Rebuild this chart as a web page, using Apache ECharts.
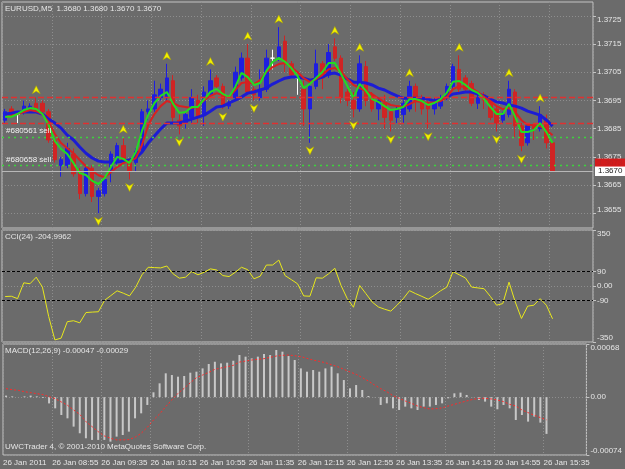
<!DOCTYPE html>
<html>
<head>
<meta charset="utf-8">
<script src="https://cdn.jsdelivr.net/npm/echarts/dist/echarts.min.js"></script>
<style>
  html, body { margin: 0; padding: 0; background: #6b6b6b; }
  #chart { width: 625px; height: 469px; }
</style>
</head>
<body>
<div id="chart"></div>
<script>
// EURUSD M5, 26 Jan 2011, bars from 08:15 to 15:35
const opens = [1.3688,1.3692,1.3690,1.3691,1.3692,1.3694,1.3694,1.3691,1.3681,1.3672,
  1.3672,1.3676,1.3670,1.3662,1.3671,1.3661,1.3662,1.3670,1.3673,1.3679,
  1.3673,1.3673,1.3678,1.3691,1.3692,1.3696,1.3696,1.3702,1.3688,1.3687,
  1.3689,1.3695,1.3690,1.3697,1.3703,1.3700,1.3693,1.3696,1.3703,1.3710,
  1.3699,1.3696,1.3699,1.3710,1.3710,1.3716,1.3708,1.3703,1.3699,1.3692,
  1.3700,1.3708,1.3704,1.3714,1.3710,1.3698,1.3695,1.3692,1.3707,1.3697,
  1.3692,1.3694,1.3691,1.3689,1.3690,1.3692,1.3700,1.3695,1.3694,1.3692,
  1.3693,1.3696,1.3700,1.3706,1.3703,1.3701,1.3694,1.3697,1.3695,1.3692,
  1.3688,1.3690,1.3698,1.3686,1.3680,1.3686,1.3685,1.3688,1.3680]
const highs = [1.3692,1.3693,1.3690,1.3695,1.3694,1.3696,1.3695,1.3692,1.3682,1.3675,
  1.3680,1.3678,1.3671,1.3672,1.3672,1.3664,1.3668,1.3677,1.3680,1.3682,
  1.3674,1.3678,1.3692,1.3695,1.3702,1.3701,1.3708,1.3704,1.3690,1.3691,
  1.3699,1.3697,1.3700,1.3706,1.3704,1.3701,1.3695,1.3707,1.3712,1.3715,
  1.3700,1.3706,1.3713,1.3713,1.3721,1.3718,1.3709,1.3703,1.3702,1.3701,
  1.3713,1.3709,1.3715,1.3717,1.3711,1.3699,1.3698,1.3711,1.3709,1.3698,
  1.3696,1.3697,1.3692,1.3693,1.3695,1.3702,1.3701,1.3697,1.3695,1.3696,
  1.3697,1.3701,1.3708,1.3711,1.3704,1.3702,1.3697,1.3698,1.3696,1.3693,
  1.3691,1.3702,1.3699,1.3687,1.3687,1.3687,1.3693,1.3690,1.3680]
const lows = [1.3687,1.3689,1.3687,1.3690,1.3691,1.3691,1.3690,1.3680,1.3673,1.3668,
  1.3671,1.3668,1.3660,1.3661,1.3659,1.3655,1.3661,1.3666,1.3672,1.3673,
  1.3667,1.3670,1.3677,1.3688,1.3691,1.3695,1.3695,1.3687,1.3683,1.3685,
  1.3687,1.3687,1.3686,1.3696,1.3699,1.3692,1.3692,1.3695,1.3702,1.3697,
  1.3695,1.3695,1.3698,1.3706,1.3709,1.3705,1.3703,1.3697,1.3686,1.3680,
  1.3699,1.3699,1.3703,1.3709,1.3694,1.3693,1.3689,1.3691,1.3693,1.3691,
  1.3688,1.3685,1.3684,1.3687,1.3687,1.3691,1.3691,1.3690,1.3685,1.3690,
  1.3692,1.3695,1.3699,1.3698,1.3698,1.3693,1.3692,1.3692,1.3688,1.3684,
  1.3687,1.3689,1.3682,1.3677,1.3679,1.3681,1.3684,1.3678,1.3670]
const closes = [1.3691,1.3690,1.3690,1.3693,1.3693,1.3692,1.3691,1.3681,1.3674,1.3674,
  1.3678,1.3669,1.3662,1.3671,1.3661,1.3663,1.3667,1.3676,1.3679,1.3674,
  1.3670,1.3677,1.3691,1.3692,1.3697,1.3699,1.3703,1.3689,1.3686,1.3690,
  1.3696,1.3689,1.3698,1.3702,1.3700,1.3693,1.3694,1.3705,1.3710,1.3698,
  1.3697,1.3699,1.3710,1.3710,1.3714,1.3708,1.3704,1.3703,1.3692,1.3700,
  1.3708,1.3703,1.3712,1.3710,1.3696,1.3695,1.3692,1.3708,1.3695,1.3692,
  1.3695,1.3689,1.3688,1.3692,1.3694,1.3700,1.3695,1.3692,1.3692,1.3695,
  1.3696,1.3700,1.3707,1.3699,1.3699,1.3694,1.3696,1.3695,1.3689,1.3687,
  1.3690,1.3699,1.3686,1.3679,1.3686,1.3685,1.3690,1.3680,1.3670]

// moving averages
const maSlow = [1.36902,1.36905,1.36909,1.36909,1.36909,1.36909,1.36902,1.36884,1.36870,1.36852,
  1.36827,1.36810,1.36785,1.36763,1.36746,1.36735,1.36732,1.36732,1.36732,1.36735,
  1.36739,1.36746,1.36767,1.36799,1.36824,1.36849,1.36870,1.36870,1.36870,1.36877,
  1.36884,1.36891,1.36898,1.36912,1.36927,1.36930,1.36941,1.36951,1.36962,1.36976,
  1.36980,1.36987,1.36994,1.37008,1.37019,1.37029,1.37033,1.37033,1.37029,1.37022,
  1.37026,1.37033,1.37044,1.37047,1.37040,1.37026,1.37015,1.37015,1.37012,1.37005,
  1.36994,1.36987,1.36976,1.36966,1.36958,1.36958,1.36958,1.36958,1.36955,1.36948,
  1.36955,1.36962,1.36973,1.36976,1.36980,1.36980,1.36973,1.36966,1.36955,1.36945,
  1.36941,1.36934,1.36930,1.36923,1.36912,1.36905,1.36898,1.36881,1.36859]
const maMid = [1.36891,1.36895,1.36902,1.36909,1.36916,1.36912,1.36902,1.36873,1.36831,1.36799,
  1.36781,1.36763,1.36739,1.36717,1.36700,1.36685,1.36678,1.36696,1.36714,1.36728,
  1.36735,1.36746,1.36792,1.36863,1.36902,1.36930,1.36948,1.36941,1.36930,1.36927,
  1.36923,1.36930,1.36951,1.36966,1.36976,1.36969,1.36962,1.36987,1.37012,1.37015,
  1.37008,1.37022,1.37051,1.37068,1.37079,1.37083,1.37068,1.37051,1.37029,1.37015,
  1.37026,1.37040,1.37061,1.37065,1.37051,1.37026,1.37005,1.36994,1.36983,1.36973,
  1.36958,1.36944,1.36934,1.36930,1.36927,1.36937,1.36948,1.36944,1.36941,1.36944,
  1.36948,1.36962,1.36990,1.37001,1.36997,1.36994,1.36980,1.36962,1.36948,1.36930,
  1.36919,1.36923,1.36909,1.36880,1.36863,1.36863,1.36859,1.36845,1.36827]
const maFast = [1.36892,1.36892,1.36902,1.36916,1.36923,1.36920,1.36902,1.36863,1.36806,1.36778,
  1.36760,1.36728,1.36693,1.36686,1.36665,1.36654,1.36675,1.36714,1.36750,1.36743,
  1.36728,1.36767,1.36842,1.36899,1.36941,1.36966,1.36980,1.36938,1.36906,1.36909,
  1.36927,1.36927,1.36955,1.36980,1.36991,1.36973,1.36962,1.36998,1.37048,1.37033,
  1.37005,1.37012,1.37055,1.37087,1.37101,1.37087,1.37065,1.37037,1.36994,1.37009,
  1.37030,1.37051,1.37083,1.37083,1.37044,1.37001,1.36959,1.37009,1.36984,1.36955,
  1.36945,1.36930,1.36916,1.36920,1.36927,1.36955,1.36955,1.36948,1.36934,1.36941,
  1.36955,1.36977,1.37016,1.37019,1.37005,1.36987,1.36977,1.36955,1.36927,1.36902,
  1.36902,1.36938,1.36892,1.36838,1.36838,1.36845,1.36870,1.36838,1.36799]

// fractal bars (indexes into the arrays above)
const fractalUp = [5, 19, 26, 33, 39, 44, 53, 57, 65, 73, 81, 86]
const fractalDown = [15, 20, 28, 35, 40, 49, 56, 62, 68, 79, 83]

// horizontal levels
const stopLevels = [1.3696, 1.3687]
const orderLevels = [1.3682, 1.3672]
const orderNames = ['#680561 sell', '#680658 sell']
const bidPrice = 1.3670
const askPrice = 1.3673

const cci = [-66,-64,-79,20,14,55,-7,-190,-337,-326,
  -223,-217,-230,-166,-163,-161,-89,-60,-30,-45,
  -62,-7,70,117,115,113,125,76,49,55,
  90,70,86,107,100,65,59,86,117,102,
  45,61,131,131,162,65,40,14,-62,-64,
  51,49,76,111,3,-79,-133,3,-48,-100,
  -131,-145,-157,-120,-79,-29,-48,-65,-83,-58,
  -30,-7,90,70,50,-7,-12,-17,-65,-120,
  -110,24,-100,-203,-126,-120,-79,-120,-205]
const cciLevels = [90, -90]

const macdHist = [0.00002,0.00001,0,0.00001,0.00002,0.00001,-0.00001,-0.00008,-0.000143,-0.000228,
  -0.000271,-0.000377,-0.000462,-0.000526,-0.000547,-0.000547,-0.000547,-0.000569,-0.000505,-0.000484,
  -0.000441,-0.000271,-0.000207,-0.0001,0.000062,0.000177,0.000305,0.000283,0.000262,0.000271,
  0.000313,0.000326,0.000368,0.000424,0.000453,0.000432,0.000441,0.000466,0.000539,0.000518,
  0.000496,0.000518,0.000552,0.000539,0.000603,0.000582,0.000526,0.000475,0.000368,0.000326,
  0.000347,0.000326,0.000368,0.00039,0.000305,0.000219,0.000113,0.000155,0.000092,0.000015,
  0.000002,-0.0001,-0.000079,-0.000143,-0.000164,-0.000121,-0.000143,-0.000164,-0.000121,-0.000121,
  -0.0001,-0.000079,-0.000015,0.000049,0.000058,0.000028,-0.000002,-0.000036,-0.000057,-0.000121,
  -0.000155,-0.0001,-0.000143,-0.000292,-0.000228,-0.000313,-0.000249,-0.000326,-0.00047]
const macdSignal = [0.000109,0.000096,0.000087,0.00007,0.000058,0.000045,0.000032,0.000006,-0.000019,-0.000062,
  -0.000104,-0.000164,-0.000219,-0.000313,-0.000377,-0.000441,-0.000496,-0.000526,-0.000547,-0.000547,
  -0.000543,-0.000513,-0.000462,-0.000386,-0.000292,-0.000215,-0.000121,-0.000036,0.000049,0.000113,
  0.000185,0.000249,0.000283,0.000317,0.000356,0.000373,0.00039,0.000407,0.000449,0.000462,
  0.000475,0.000484,0.000492,0.000509,0.000526,0.000535,0.000539,0.00053,0.000518,0.000496,
  0.000475,0.000458,0.000441,0.000415,0.00039,0.000356,0.000322,0.000292,0.000249,0.000207,
  0.000155,0.000109,0.00007,0.000019,-0.000015,-0.000049,-0.000079,-0.000113,-0.000134,-0.000151,
  -0.000147,-0.000138,-0.000113,-0.000092,-0.00007,-0.000049,-0.000028,-0.000015,-0.000015,-0.000023,
  -0.000036,-0.000057,-0.000092,-0.000113,-0.000164,-0.000198,-0.000232,-0.000262,-0.00029]

const priceTicks = [1.3655, 1.3665, 1.3675, 1.3685, 1.3695, 1.3705, 1.3715, 1.3725]
const cciTicks = [-350, -90, 0, 90, 350]
const macdTicks = [-0.00074, 0, 0.00068]
const timeLabels = ['26 Jan 2011', '26 Jan 08:55', '26 Jan 09:35', '26 Jan 10:15', '26 Jan 10:55',
  '26 Jan 11:35', '26 Jan 12:15', '26 Jan 12:55', '26 Jan 13:35', '26 Jan 14:15',
  '26 Jan 14:55', '26 Jan 15:35']

const SLOTS = 95 // bar slots on screen incl. the empty shift on the right
const cats = []
for (let i = 0; i < SLOTS; i++) {
  const m = 8 * 60 + 15 + i * 5
  cats.push(String(Math.floor(m / 60)).padStart(2, '0') + ':' + String(m % 60).padStart(2, '0'))
}
const bounds = []
for (let i = 0; i <= SLOTS; i++) bounds.push('b' + i)

const FONT = 'Liberation Sans'
const TXT = '#e6e6e6'
const BORDER = '#c4c4c4'
const GRIDLINE = { color: '#8e8e8e', type: [1, 2], width: 1 }

const candleData = opens.map((o, i) => [o, closes[i], lows[i], highs[i]])
const upPts = fractalUp.map(i => [i, highs[i]])
const downPts = fractalDown.map(i => [i, lows[i]])

function xCat (gridIndex) {
  return {
    type: 'category',
    gridIndex,
    position: 'bottom',
    data: cats,
    boundaryGap: true,
    axisLine: { show: false },
    axisTick: { show: false },
    axisLabel: { show: false },
    splitLine: { show: true, interval: 7, lineStyle: GRIDLINE }
  }
}
function yRight (gridIndex, min, max, ticks, fmt) {
  return {
    type: 'value',
    gridIndex,
    position: 'right',
    min,
    max,
    axisLine: { show: false },
    axisTick: { show: true, length: 3, customValues: ticks, lineStyle: { color: BORDER } },
    axisLabel: {
      customValues: ticks,
      formatter: fmt,
      color: TXT,
      fontSize: 8,
      fontFamily: FONT,
      margin: 4,
      verticalAlignMaxLabel: 'top',
      verticalAlignMinLabel: 'bottom'
    },
    splitLine: { show: true, lineStyle: GRIDLINE }
  }
}
function titleAt (text, top) {
  return {
    text,
    left: 5,
    top,
    padding: 0,
    textStyle: { color: TXT, fontSize: 8, fontWeight: 'normal', fontFamily: FONT }
  }
}

const chart = echarts.init(document.getElementById('chart'), null, { renderer: 'canvas' })
const option = {
  animation: false,
  backgroundColor: '#6b6b6b',
  title: [
    titleAt('EURUSD,M5  1.3680 1.3680 1.3670 1.3670', 5),
    titleAt('CCI(24) -204.9962', 233),
    titleAt('MACD(12,26,9) -0.00047 -0.00029', 347),
    titleAt('UWCTrader 4, © 2001-2010 MetaQuotes Software Corp.', 443)
  ],
  grid: [
    { left: 2, top: 2, width: 591, height: 226, show: true, borderColor: BORDER, borderWidth: 1, backgroundColor: 'transparent' },
    { left: 2, top: 230, width: 591, height: 112, show: true, borderColor: BORDER, borderWidth: 1, backgroundColor: 'transparent' },
    { left: 2, top: 344, width: 591, height: 111, show: true, borderColor: BORDER, borderWidth: 1, backgroundColor: 'transparent' }
  ],
  xAxis: [
    xCat(0),
    xCat(1),
    xCat(2),
    {
      type: 'category',
      gridIndex: 2,
      position: 'bottom',
      offset: 0,
      data: bounds,
      boundaryGap: false,
      axisLine: { show: false },
      axisTick: { show: false },
      splitLine: { show: false },
      axisLabel: {
        interval: 7,
        align: 'left',
        margin: 4,
        color: TXT,
        fontSize: 8,
        fontFamily: FONT,
        formatter: (v, idx) => timeLabels[idx / 8] || ''
      }
    }
  ],
  yAxis: [
    yRight(0, 1.36498, 1.37299, priceTicks, v => v.toFixed(4)),
    yRight(1, -350, 350, cciTicks, v => (v === 0 ? '0.00' : String(v))),
    yRight(2, -0.00074, 0.00068, macdTicks, v => (v === 0 ? '0.00' : v.toFixed(5)))
  ],
  series: [
    {
      type: 'candlestick',
      xAxisIndex: 0,
      yAxisIndex: 0,
      data: candleData,
      barWidth: 4,
      itemStyle: {
        color: '#1e1ee0',
        color0: '#d02424',
        borderColor: '#1e1ee0',
        borderColor0: '#d02424',
        borderColorDoji: '#ffffff',
        borderWidth: 1
      }
    },
    {
      type: 'line',
      xAxisIndex: 0,
      yAxisIndex: 0,
      data: maSlow,
      symbol: 'none',
      lineStyle: { color: '#1c1cd4', width: 3 },
      markLine: {
        silent: true,
        symbol: 'none',
        precision: 5,
        animation: false,
        data: [
          ...stopLevels.map(v => ({ yAxis: v, lineStyle: { color: '#e03030', type: [6, 3], width: 1.3 }, label: { show: false } })),
          ...orderLevels.map((v, k) => ({
            yAxis: v,
            lineStyle: { color: '#3cd43c', type: [2, 4], width: 1.3 },
            label: { show: true, position: 'insideStartTop', formatter: orderNames[k], color: '#f0f0f0', fontSize: 8, fontFamily: FONT, distance: [4, 2] }
          })),
          {
            yAxis: bidPrice,
            lineStyle: { color: '#b8b8b8', type: 'solid', width: 1 },
            label: { show: true, position: 'end', formatter: bidPrice.toFixed(4), backgroundColor: '#ffffff', color: '#202020', fontSize: 8, fontFamily: FONT, padding: [1, 4, 1, 3], distance: 2 }
          },
          {
            yAxis: askPrice,
            lineStyle: { color: 'rgba(0,0,0,0)', width: 0 },
            label: { show: true, position: 'end', formatter: askPrice.toFixed(4), backgroundColor: '#d21c1c', color: '#c02020', fontSize: 8, fontFamily: FONT, padding: [0, 4, 0, 3], distance: 2 }
          }
        ]
      }
    },
    { type: 'line', xAxisIndex: 0, yAxisIndex: 0, data: maMid, symbol: 'none', lineStyle: { color: '#d82020', width: 2 } },
    { type: 'line', xAxisIndex: 0, yAxisIndex: 0, data: maFast, symbol: 'none', lineStyle: { color: '#22dc22', width: 2 } },
    {
      type: 'scatter',
      xAxisIndex: 0,
      yAxisIndex: 0,
      data: upPts,
      symbol: 'path://M5,0 L10,10 L5,7 L0,10 Z',
      symbolSize: [8, 8],
      symbolOffset: [0, -8],
      itemStyle: { color: '#f2f000', borderColor: '#a8a000', borderWidth: 0.5, opacity: 1 },
      z: 5
    },
    {
      type: 'scatter',
      xAxisIndex: 0,
      yAxisIndex: 0,
      data: downPts,
      symbol: 'path://M0,0 L5,3 L10,0 L5,10 Z',
      symbolSize: [8, 8],
      symbolOffset: [0, 8],
      itemStyle: { color: '#f2f000', borderColor: '#a8a000', borderWidth: 0.5, opacity: 1 },
      z: 5
    },
    {
      type: 'line',
      xAxisIndex: 1,
      yAxisIndex: 1,
      data: cci,
      symbol: 'none',
      lineStyle: { color: '#e8e81c', width: 1 },
      markLine: {
        silent: true,
        symbol: 'none',
        label: { show: false },
        lineStyle: { color: '#000000', type: [3, 2], width: 1 },
        data: cciLevels.map(v => ({ yAxis: v }))
      }
    },
    {
      type: 'bar',
      xAxisIndex: 2,
      yAxisIndex: 2,
      data: macdHist,
      barWidth: 2,
      itemStyle: { color: '#c8c8c8' }
    },
    {
      type: 'line',
      xAxisIndex: 2,
      yAxisIndex: 2,
      data: macdSignal,
      symbol: 'none',
      lineStyle: { color: '#ff2a2a', width: 1, type: [2, 2] }
    }
  ]
}
chart.setOption(option)
</script>
</body>
</html>
